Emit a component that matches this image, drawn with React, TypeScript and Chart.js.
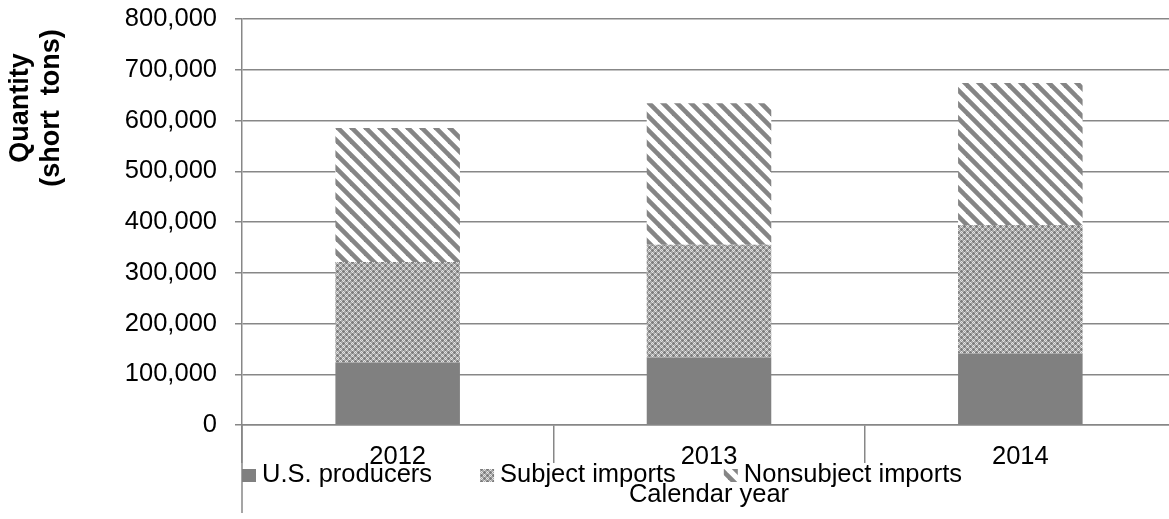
import React, { useEffect, useRef } from "react";
import { Chart, registerables } from "chart.js";

Chart.register(...registerables);

const years = ["2012", "2013", "2014"];
const usProducers = [123000, 133000, 141000];
const subjectImports = [198000, 222000, 253000];
const nonsubjectImports = [264000, 279000, 280000];
const seriesNames = ["U.S. producers", "Subject imports", "Nonsubject imports"];
const yTitleLines = ["Quantity", "(short  tons)"];
const xTitle = "Calendar year";

const FONT = "'Liberation Sans', Arial, sans-serif";
const GRID = "#878787";

function makeCheckerPattern(ctx: CanvasRenderingContext2D) {
  const c = document.createElement("canvas");
  c.width = 6;
  c.height = 6;
  const g = c.getContext("2d")!;
  const D = "#7d7d7d", M = "#a8a8a8", W = "#e4e4e4";
  const rows = [
    "MDMMWM",
    "DDDWMW",
    "MDMMWM",
    "MWMMDM",
    "WMWDDD",
    "MWMMDM",
  ];
  rows.forEach((r, y) => {
    for (let x = 0; x < 6; x++) {
      const ch = r[x];
      g.fillStyle = ch === "D" ? D : ch === "W" ? W : M;
      g.fillRect(x, y, 1, 1);
    }
  });
  return ctx.createPattern(c, "repeat")!;
}

function makeStripePattern(ctx: CanvasRenderingContext2D) {
  const s = 14;
  const c = document.createElement("canvas");
  c.width = s;
  c.height = s;
  const g = c.getContext("2d")!;
  g.fillStyle = "#ffffff";
  g.fillRect(0, 0, s, s);
  g.strokeStyle = "#858585";
  g.lineWidth = 4.6;
  for (const k of [-s, 0, s]) {
    g.beginPath();
    g.moveTo(k - 3, -3);
    g.lineTo(k + s + 3, s + 3);
    g.stroke();
  }
  return ctx.createPattern(c, "repeat")!;
}

export default function App() {
  const ref = useRef<HTMLCanvasElement | null>(null);

  useEffect(() => {
    const canvas = ref.current!;
    const ctx = canvas.getContext("2d")!;
    const checker = makeCheckerPattern(ctx);
    const stripes = makeStripePattern(ctx);
    const fills: (string | CanvasPattern)[] = ["#808080", checker, stripes];

    const extras = {
      id: "extras",
      afterDraw(chart: any) {
        const c = chart.ctx as CanvasRenderingContext2D;
        const area = chart.chartArea;
        c.save();
        c.strokeStyle = GRID;
        c.lineWidth = 1.5;
        c.beginPath();
        c.moveTo(area.left, area.bottom);
        c.lineTo(area.left, 513);
        c.stroke();

        c.fillStyle = "#000";
        c.font = `bold 27px ${FONT}`;
        c.textAlign = "center";
        c.textBaseline = "middle";
        const xs = [21, 52];
        yTitleLines.forEach((t, i) => {
          c.save();
          c.translate(xs[i], 108);
          c.rotate(-Math.PI / 2);
          c.fillText(t, 0, 0);
          c.restore();
        });

        c.font = `25.5px ${FONT}`;
        c.textAlign = "left";
        c.textBaseline = "middle";
        let x = area.left;
        const yMid = 475;
        seriesNames.forEach((name, i) => {
          c.fillStyle = fills[i] as any;
          c.fillRect(x, 469, 14, 13);
          c.fillStyle = "#000";
          c.fillText(name, x + 20, yMid);
          x = x + 20 + c.measureText(name).width + 48;
        });
        c.restore();
      },
    };

    const chart = new Chart(canvas, {
      type: "bar",
      data: {
        labels: years,
        datasets: [
          { label: seriesNames[0], data: usProducers, backgroundColor: fills[0] as any, borderWidth: 0 },
          { label: seriesNames[1], data: subjectImports, backgroundColor: fills[1] as any, borderWidth: 0 },
          { label: seriesNames[2], data: nonsubjectImports, backgroundColor: fills[2] as any, borderWidth: 0 },
        ],
      },
      options: {
        animation: false,
        responsive: false,
        devicePixelRatio: 1,
        layout: { padding: { left: 0, top: 19, right: 0, bottom: 0 } },
        datasets: { bar: { barPercentage: 0.4, categoryPercentage: 1.0 } },
        plugins: {
          legend: { display: false },
          tooltip: { enabled: false },
        },
        scales: {
          x: {
            stacked: true,
            afterFit(scale: any) {
              scale.height = 94;
              scale.paddingLeft = 0;
              scale.paddingRight = 0;
            },
            grid: {
              display: true,
              offset: true,
              drawOnChartArea: false,
              drawTicks: true,
              tickLength: 38,
              color: GRID,
              lineWidth: 1.5,
            },
            border: { display: true, color: GRID, width: 1.5 },
            ticks: {
              color: "#000",
              padding: -21,
              font: { family: FONT, size: 25.5 },
              maxRotation: 0,
            },
            title: {
              display: true,
              text: xTitle,
              color: "#000",
              font: { family: FONT, size: 25.5 },
              padding: { top: 0, bottom: 9 },
            },
          },
          y: {
            stacked: true,
            min: 0,
            max: 800000,
            afterFit(scale: any) {
              scale.width = 242;
              scale.paddingTop = 0;
              scale.paddingBottom = 0;
            },
            grid: {
              color: GRID,
              lineWidth: 1.5,
              drawTicks: true,
              tickLength: 7,
            },
            border: { display: true, color: GRID, width: 1.5 },
            ticks: {
              stepSize: 100000,
              color: "#000",
              padding: 18,
              font: { family: FONT, size: 25.5 },
              callback: (v: any) => Number(v).toLocaleString("en-US"),
            },
          },
        },
      },
      plugins: [extras],
    });
    return () => chart.destroy();
  }, []);

  return (
    <div
      style={{
        position: "fixed",
        left: 0,
        top: 0,
        width: 1169,
        height: 519,
        overflow: "hidden",
        background: "#fff",
      }}
    >
      <canvas ref={ref} width={1176} height={519} style={{ width: 1176, height: 519, display: "block" }} />
    </div>
  );
}
